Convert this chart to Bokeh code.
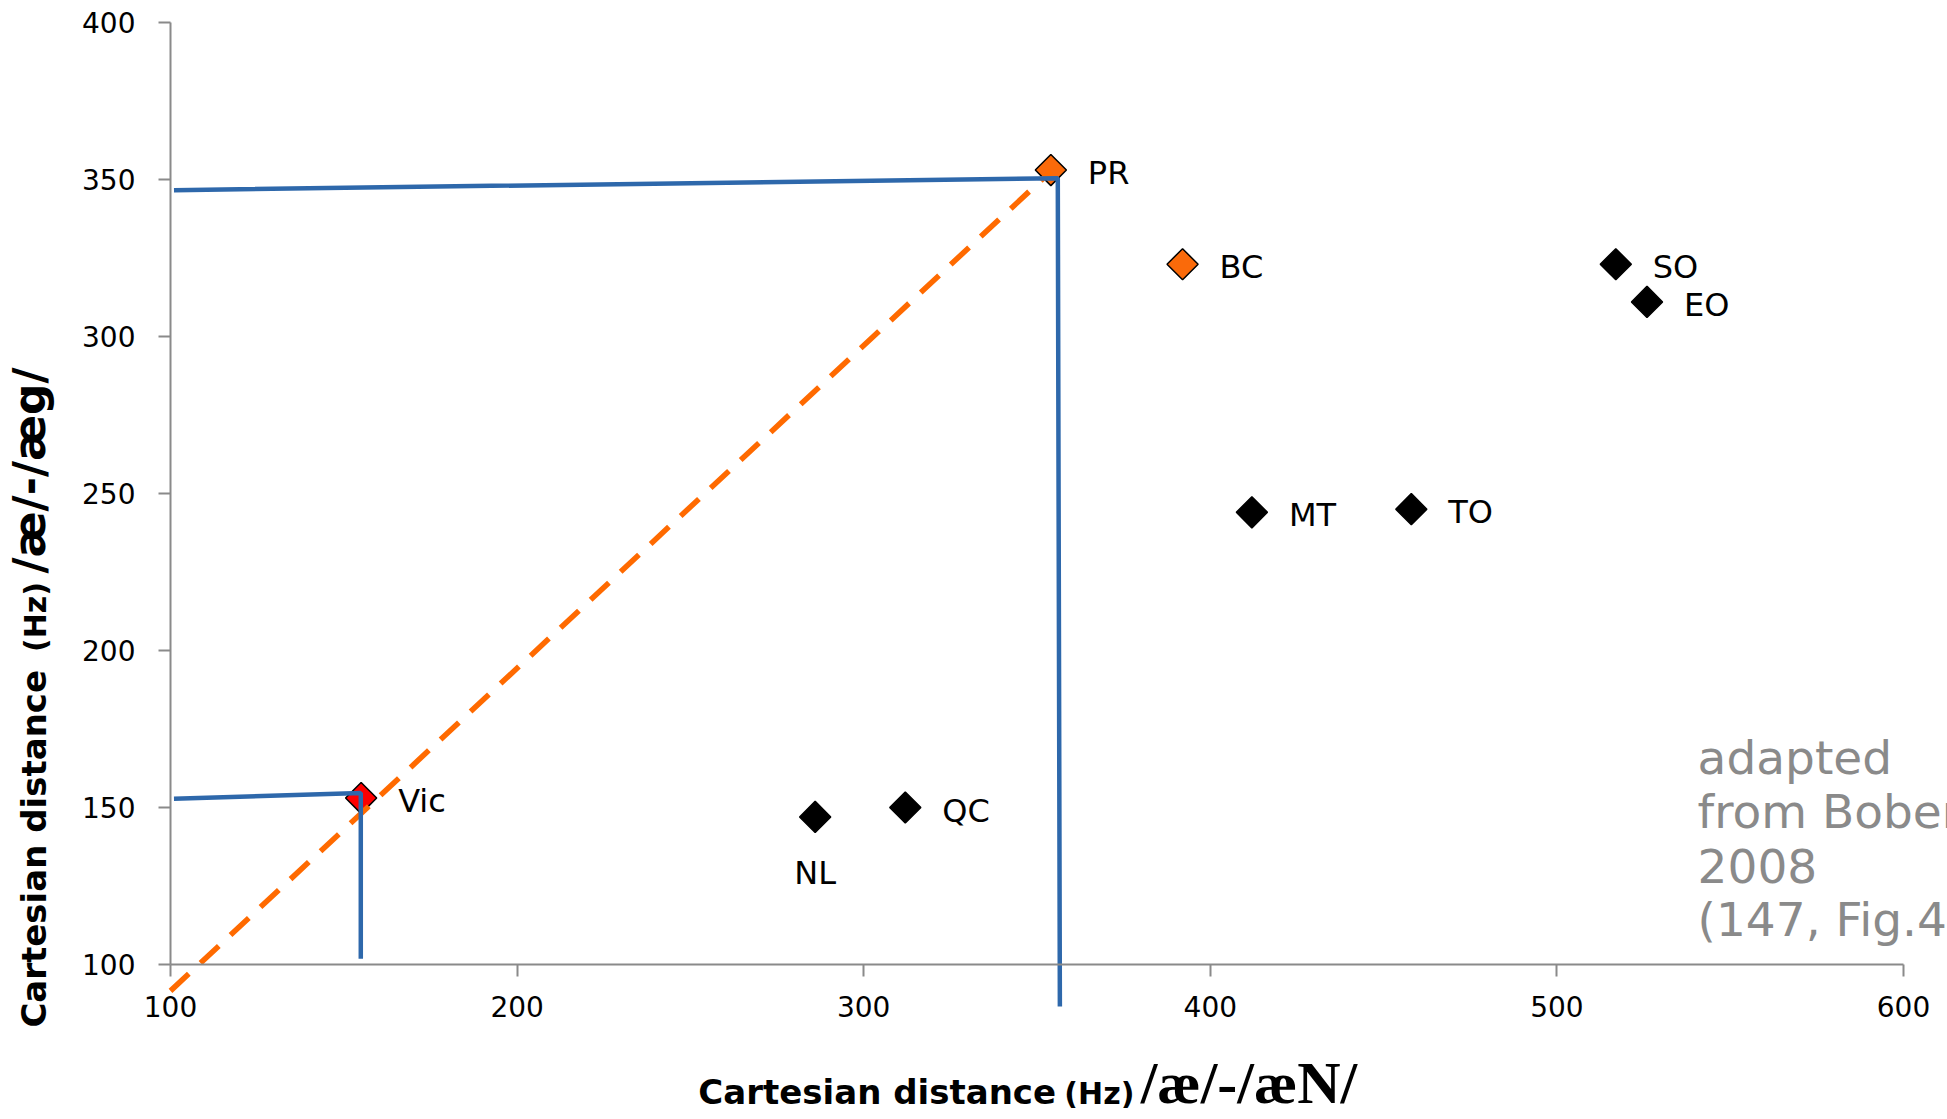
import numpy as np
from bokeh.plotting import figure
from bokeh.models import ColumnDataSource, FixedTicker, Range1d
from bokeh.core.properties import value
from bokeh.embed import file_html
from bokeh.resources import INLINE

# ---------------- data ----------------
sites = ["PR", "BC", "SO", "EO", "MT", "TO", "Vic", "NL", "QC"]
dist_ae_aeN = [354, 392, 517, 526, 412, 458, 155, 286, 312]   # x: /ae/-/aeN/ (Hz)
dist_ae_aeg = [353, 323, 323, 311, 244, 245, 153, 147, 150]   # y: /ae/-/aeg/ (Hz)
site_group = ["prairie", "prairie", "other", "other", "other", "other", "vic", "other", "other"]

x_ticks = [100, 200, 300, 400, 500, 600]
y_ticks = [100, 150, 200, 250, 300, 350, 400]

# hand-drawn guide lines
pr_guide_x = [101, 356, 356.6]
pr_guide_y = [346.6, 350.4, 86.6]
vic_guide_x = [101, 154.9, 154.9]
vic_guide_y = [152.8, 154.6, 101.8]
trend_x = [100, 354]
trend_y = [91.6, 352.6]

note_lines = ["adapted", "from Boberg", "2008", "(147, Fig.4)"]
x_title_parts = ["Cartesian distance", "(Hz)", "/æ/-/æN/"]
y_title_parts = ["Cartesian distance", "(Hz)", "/æ/-/æg/"]

# ---------------- styles ----------------
group_colors = {"prairie": "#fa6a0a", "vic": "#ff0000", "other": "#000000"}
SANS = "DejaVu Sans"
BLUE = "#2e68ab"
AXIS_GREY = "#8a8a8a"
BASELINE_SHIFT = 0.34   # correction of Bokeh's alphabetic anchor (em)

W, H = 1947, 1119
# the frame covers the whole canvas; axes are placed at fixed data locations
p = figure(width=W, height=H, output_backend="svg", toolbar_location=None, title=None,
           x_range=Range1d(50.95, 612.70), y_range=Range1d(50.64, 407.0),
           min_border_left=0, min_border_right=0, min_border_top=0, min_border_bottom=0)
p.outline_line_color = None
p.xgrid.visible = False
p.ygrid.visible = False
p.background_fill_color = "white"
p.border_fill_color = "white"

p.xaxis.ticker = FixedTicker(ticks=x_ticks)
p.yaxis.ticker = FixedTicker(ticks=y_ticks)
p.xaxis.bounds = (100, 600)
p.yaxis.bounds = (100, 400)
p.xaxis.fixed_location = 100
p.yaxis.fixed_location = 100
p.axis.axis_line_color = AXIS_GREY
p.axis.axis_line_width = 2
p.axis.major_tick_line_color = AXIS_GREY
p.axis.major_tick_line_width = 2
p.axis.major_tick_in = 0
p.axis.major_tick_out = 12
p.axis.minor_tick_line_color = None
p.axis.major_label_text_font = SANS
p.axis.major_label_text_font_size = "28px"
p.axis.major_label_text_color = "black"
p.xaxis.major_label_standoff = 19
p.yaxis.major_label_standoff = 23

# markers
src = ColumnDataSource(dict(x=dist_ae_aeN, y=dist_ae_aeg, site=sites,
                            fill=[group_colors[g] for g in site_group]))
p.scatter("x", "y", source=src, marker="square", size=22, angle=np.pi / 4,
          fill_color="fill", line_color="black", line_width=1.5)

# dashed diagonal and blue guides
p.line(trend_x, trend_y, line_color="#ff6a00", line_width=5.5, line_dash="25 16")
p.line(pr_guide_x, pr_guide_y, line_color=BLUE, line_width=4.5)
p.line(vic_guide_x, vic_guide_y, line_color=BLUE, line_width=4.5)

# point labels
below = {"NL"}
idx_r = [i for i, s in enumerate(sites) if s not in below]
idx_b = [i for i, s in enumerate(sites) if s in below]
src_r = ColumnDataSource(dict(x=[dist_ae_aeN[i] for i in idx_r], y=[dist_ae_aeg[i] for i in idx_r],
                              t=[sites[i] for i in idx_r]))
src_b = ColumnDataSource(dict(x=[dist_ae_aeN[i] for i in idx_b], y=[dist_ae_aeg[i] for i in idx_b],
                              t=[sites[i] for i in idx_b]))
p.text("x", "y", text="t", source=src_r, x_offset=37, y_offset=3,
       text_font=value(SANS), text_font_size="32px", text_color="black",
       text_align="left", text_baseline="middle")
p.text("x", "y", text="t", source=src_b, x_offset=0, y_offset=56,
       text_font=value(SANS), text_font_size="32px", text_color="black",
       text_align="center", text_baseline="middle")


def add_text(x, y, s, font, size_px, style="normal", color="black", rotated=False):
    shift = BASELINE_SHIFT * size_px
    p.text(x=[x], y=[y], text=[s], text_font=value(font), text_font_size=f"{size_px}px",
           text_font_style=style, text_color=color,
           angle=np.pi / 2 if rotated else 0.0,
           x_offset=-1.2 * shift if rotated else 0, y_offset=0 if rotated else -shift,
           text_align="left", text_baseline="alphabetic")


# source note
for i, line in enumerate(note_lines):
    add_text(540.6, 160.8 - 17.2 * i, line, SANS, 47, color="#8a8a8a")

# x-axis title (mixed fonts)
xt_fonts = [(SANS, 34), (SANS, 30), ("Liberation Serif", 60)]
xt_pos = [252.3, 357.9, 379.9]
for part, (fnt, fs), xp in zip(x_title_parts, xt_fonts, xt_pos):
    add_text(xp, 55.7, part, fnt, fs, style="bold")

# y-axis title (rotated, reading upward)
yt_fonts = [(SANS, 34), (SANS, 30), (SANS, 44)]
yt_pos = [79.9, 199.5, 224.5]
for part, (fnt, fs), yp in zip(y_title_parts, yt_fonts, yt_pos):
    add_text(64.5, yp, part, fnt, fs, style="bold", rotated=True)

open("out.html", "w").write(file_html(p, INLINE))
